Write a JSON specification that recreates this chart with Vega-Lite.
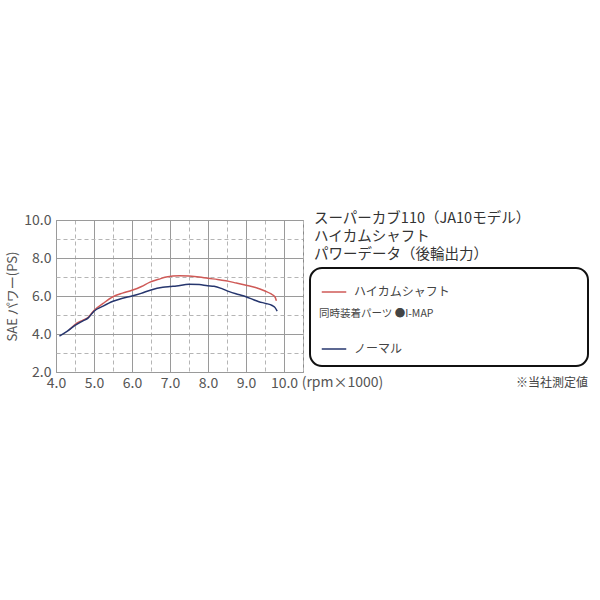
{
  "$schema": "https://vega.github.io/schema/vega-lite/v6.json",
  "autosize": "none",
  "width": 247,
  "height": 152,
  "padding": {"left": 56, "top": 220, "right": 297, "bottom": 228},
  "background": "white",
  "config": {
    "font": "Noto Sans CJK JP",
    "view": {"stroke": "#8a8a8a", "strokeWidth": 1}
  },
  "title": {
    "text": ["スーパーカブ110（JA10モデル）", "ハイカムシャフト", "パワーデータ（後輪出力）"],
    "anchor": "start",
    "frame": "group",
    "dx": 258,
    "dy": 53,
    "baseline": "top",
    "fontSize": 14.5,
    "fontWeight": "normal",
    "lineHeight": 18,
    "color": "#333333"
  },
  "data": {
    "values": [
      {"series": "ハイカムシャフト", "rpm": 4.35, "ps": 4.22},
      {"series": "ハイカムシャフト", "rpm": 4.5, "ps": 4.5},
      {"series": "ハイカムシャフト", "rpm": 4.7, "ps": 4.72},
      {"series": "ハイカムシャフト", "rpm": 4.85, "ps": 4.88},
      {"series": "ハイカムシャフト", "rpm": 5.0, "ps": 5.24},
      {"series": "ハイカムシャフト", "rpm": 5.24, "ps": 5.61},
      {"series": "ハイカムシャフト", "rpm": 5.5, "ps": 5.96},
      {"series": "ハイカムシャフト", "rpm": 5.75, "ps": 6.15},
      {"series": "ハイカムシャフト", "rpm": 6.0, "ps": 6.3},
      {"series": "ハイカムシャフト", "rpm": 6.25, "ps": 6.5},
      {"series": "ハイカムシャフト", "rpm": 6.46, "ps": 6.72},
      {"series": "ハイカムシャフト", "rpm": 6.7, "ps": 6.88},
      {"series": "ハイカムシャフト", "rpm": 6.9, "ps": 7.0},
      {"series": "ハイカムシャフト", "rpm": 7.25, "ps": 7.07},
      {"series": "ハイカムシャフト", "rpm": 7.5, "ps": 7.05},
      {"series": "ハイカムシャフト", "rpm": 7.77, "ps": 7.0},
      {"series": "ハイカムシャフト", "rpm": 8.0, "ps": 6.93},
      {"series": "ハイカムシャフト", "rpm": 8.25, "ps": 6.87},
      {"series": "ハイカムシャフト", "rpm": 8.47, "ps": 6.8},
      {"series": "ハイカムシャフト", "rpm": 8.75, "ps": 6.68},
      {"series": "ハイカムシャフト", "rpm": 9.0, "ps": 6.57},
      {"series": "ハイカムシャフト", "rpm": 9.25, "ps": 6.45},
      {"series": "ハイカムシャフト", "rpm": 9.5, "ps": 6.26},
      {"series": "ハイカムシャフト", "rpm": 9.65, "ps": 6.12},
      {"series": "ハイカムシャフト", "rpm": 9.76, "ps": 5.96},
      {"series": "ハイカムシャフト", "rpm": 9.8, "ps": 5.75},
      {"series": "ノーマル", "rpm": 4.09, "ps": 3.89},
      {"series": "ノーマル", "rpm": 4.3, "ps": 4.15},
      {"series": "ノーマル", "rpm": 4.5, "ps": 4.45},
      {"series": "ノーマル", "rpm": 4.7, "ps": 4.68},
      {"series": "ノーマル", "rpm": 4.85, "ps": 4.85},
      {"series": "ノーマル", "rpm": 5.0, "ps": 5.2},
      {"series": "ノーマル", "rpm": 5.24, "ps": 5.47},
      {"series": "ノーマル", "rpm": 5.5, "ps": 5.72},
      {"series": "ノーマル", "rpm": 5.75, "ps": 5.88},
      {"series": "ノーマル", "rpm": 6.0, "ps": 6.0},
      {"series": "ノーマル", "rpm": 6.24, "ps": 6.14},
      {"series": "ノーマル", "rpm": 6.5, "ps": 6.32},
      {"series": "ノーマル", "rpm": 6.81, "ps": 6.46},
      {"series": "ノーマル", "rpm": 7.0, "ps": 6.5},
      {"series": "ノーマル", "rpm": 7.17, "ps": 6.53},
      {"series": "ノーマル", "rpm": 7.5, "ps": 6.62},
      {"series": "ノーマル", "rpm": 7.77, "ps": 6.6},
      {"series": "ノーマル", "rpm": 7.99, "ps": 6.54},
      {"series": "ノーマル", "rpm": 8.16, "ps": 6.51},
      {"series": "ノーマル", "rpm": 8.35, "ps": 6.4},
      {"series": "ノーマル", "rpm": 8.56, "ps": 6.23},
      {"series": "ノーマル", "rpm": 8.8, "ps": 6.08},
      {"series": "ノーマル", "rpm": 9.0, "ps": 5.96},
      {"series": "ノーマル", "rpm": 9.2, "ps": 5.8},
      {"series": "ノーマル", "rpm": 9.34, "ps": 5.7},
      {"series": "ノーマル", "rpm": 9.52, "ps": 5.61},
      {"series": "ノーマル", "rpm": 9.69, "ps": 5.5},
      {"series": "ノーマル", "rpm": 9.76, "ps": 5.4},
      {"series": "ノーマル", "rpm": 9.82, "ps": 5.2}
    ]
  },
  "layer": [
    {
      "mark": {"type": "line", "strokeWidth": 1.5, "interpolate": "monotone"},
      "encoding": {
        "x": {
          "field": "rpm",
          "type": "quantitative",
          "scale": {"domain": [4, 10.5], "nice": false, "zero": false},
          "axis": {
            "values": [4, 4.5, 5, 5.5, 6, 6.5, 7, 7.5, 8, 8.5, 9, 9.5, 10, 10.5],
            "tickCount": 30,
            "labelExpr": "datum.value % 1 == 0 && datum.value <= 10 ? format(datum.value, '.1f') : ''",
            "ticks": false,
            "domain": false,
            "labelFontSize": 14,
            "labelColor": "#555555",
            "labelPadding": 4,
            "labelFlush": false,
            "labelOverlap": false,
            "gridColor": {"condition": {"test": "datum.value % 1 != 0", "value": "#b5b5b5"}, "value": "#9a9a9a"},
            "gridDash": {"condition": {"test": "datum.value % 1 != 0", "value": [4, 3]}, "value": []},
            "title": "(rpm×1000)",
            "titleX": 286,
            "titleY": 10,
            "titleAlign": "center",
            "titleBaseline": "middle",
            "titleFontSize": 14,
            "titleFontWeight": "normal",
            "titleColor": "#555555"
          }
        },
        "y": {
          "field": "ps",
          "type": "quantitative",
          "scale": {"domain": [2, 10], "nice": false, "zero": false},
          "axis": {
            "values": [2, 3, 4, 5, 6, 7, 8, 9, 10],
            "tickCount": 30,
            "labelExpr": "datum.value % 2 == 0 ? format(datum.value, '.1f') : ''",
            "ticks": false,
            "domain": false,
            "labelFontSize": 14,
            "labelColor": "#555555",
            "labelPadding": 5,
            "labelFlush": false,
            "labelOverlap": false,
            "gridColor": {"condition": {"test": "datum.value % 2 != 0", "value": "#b5b5b5"}, "value": "#9a9a9a"},
            "gridDash": {"condition": {"test": "datum.value % 2 != 0", "value": [4, 3]}, "value": []},
            "title": "SAE パワー(PS)",
            "titleFontSize": 13,
            "titleFontWeight": "normal",
            "titleColor": "#555555",
            "titlePadding": 4
          }
        },
        "color": {
          "field": "series",
          "type": "nominal",
          "scale": {
            "domain": ["ハイカムシャフト", "同時装着パーツ ●I-MAP", " ", "ノーマル"],
            "range": ["#cf5a57", "transparent", "transparent", "#26366e"]
          },
          "legend": {
            "title": null,
            "orient": "none",
            "legendX": 254,
            "legendY": 48,
            "strokeColor": "#111111",
            "cornerRadius": 12,
            "padding": 11,
            "symbolType": "stroke",
            "symbolSize": 600,
            "symbolStrokeWidth": 1.5,
            "rowPadding": 0,
            "labelOffset": 7,
            "labelFontSize": 12,
            "labelColor": "#444444",
            "labelLimit": 400,
            "encode": {
              "legend": {"update": {"strokeWidth": {"value": 2}}},
              "labels": {
                "update": {
                  "text": {"signal": "datum.label == 'ハイカムシャフト' ? datum.label + '\u3000\u3000\u3000\u3000\u3000\u3000\u3000\u3000\u3000\u3000\u2002\u200b' : datum.label"},
                  "fontSize": {"signal": "datum.label == '同時装着パーツ ●I-MAP' ? 10.5 : (datum.index == 2 ? 2 : 12)"},
                  "dx": {"signal": "datum.label == '同時装着パーツ ●I-MAP' ? -35 : 0"},
                  "dy": {"signal": "datum.label == '同時装着パーツ ●I-MAP' ? 3 : 0"}
                }
              }
            }
          }
        }
      }
    },
    {
      "data": {"values": [{"note": "※当社測定値"}]},
      "mark": {"type": "text", "align": "right", "baseline": "middle", "fontSize": 12, "fill": "#444444"},
      "encoding": {
        "x": {"datum": 18.0, "type": "quantitative"},
        "y": {"datum": 1.42, "type": "quantitative"},
        "text": {"field": "note"}
      }
    }
  ]
}
